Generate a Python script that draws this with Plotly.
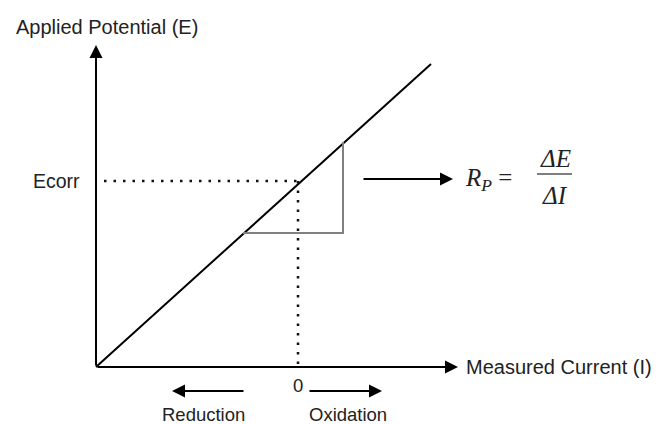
import plotly.graph_objects as go

# ---- data (diagram units; origin = axes crossing) ----
line_I = [0, 335]
line_E = [0, 303]
E_corr = 186
I_zero = 202
ecorr_start = 8
tri_I = [147, 247, 247]
tri_E = [134, 134, 225]
axis_I_max = 362
axis_E_max = 322

fig = go.Figure()

# polarization line
fig.add_trace(go.Scatter(x=line_I, y=line_E, mode="lines",
                         line=dict(color="black", width=2), hoverinfo="skip"))
# slope triangle
fig.add_trace(go.Scatter(x=tri_I, y=tri_E, mode="lines",
                         line=dict(color="#808080", width=2), hoverinfo="skip"))
# Ecorr dotted lines
dots = dict(color="#111", width=2.5, dash="2.5px,7px")
fig.add_trace(go.Scatter(x=[ecorr_start, I_zero], y=[E_corr, E_corr], mode="lines",
                         line=dots, hoverinfo="skip"))
fig.add_trace(go.Scatter(x=[I_zero, I_zero], y=[E_corr, 0], mode="lines",
                         line=dots, hoverinfo="skip"))


def arrow(x0, y0, x1, y1, w=2):
    fig.add_annotation(x=x1, y=y1, ax=x0, ay=y0, xref="x", yref="y",
                       axref="x", ayref="y", text="", showarrow=True,
                       arrowhead=2, arrowsize=1.3, arrowwidth=w, arrowcolor="black")


# axes
arrow(0, 0, axis_I_max, 0)
arrow(0, 0, 0, axis_E_max)
# direction arrows
arrow(149, -24, 76, -24)
arrow(212, -24, 286, -24)
# Rp arrow
arrow(266, 188, 357, 188)

fam = "Liberation Sans, Arial, sans-serif"
big = dict(family=fam, size=20, color="#222")
mid = dict(family=fam, size=19.5, color="#222")
small = dict(family=fam, size=18.5, color="#222")
fig.add_annotation(x=11, y=340, text="Applied Potential (E)", showarrow=False, font=big)
fig.add_annotation(x=-14, y=E_corr, text="Ecorr", showarrow=False, font=mid, xanchor="right")
fig.add_annotation(x=368, y=0, text="Measured Current (I)", showarrow=False, font=big, xanchor="left")
fig.add_annotation(x=I_zero, y=-18, text="0", showarrow=False, font=small)
fig.add_annotation(x=107, y=-47, text="Reduction", showarrow=False, font=small, borderpad=0)
fig.add_annotation(x=252, y=-47, text="Oxidation", showarrow=False, font=small, borderpad=0)

serif = dict(family="Liberation Serif, DejaVu Serif, serif", size=25, color="#222")
fig.add_annotation(x=367, y=188, text="<i>R<sub>P</sub></i> =", showarrow=False,
                   font=serif, xanchor="left")
fig.add_annotation(x=459, y=209, text="<i>ΔE</i>", showarrow=False, font=serif)
fig.add_annotation(x=459, y=172, text="<i>ΔI</i>", showarrow=False, font=serif)
fig.add_shape(type="line", x0=441, x1=476, y0=193, y1=193, xref="x", yref="y",
              line=dict(color="#555", width=1.5))

# figure sits 8px in from the page's top-left corner (default body margin)
fig.update_layout(
    width=655, height=416, margin=dict(l=0, r=0, t=0, b=0),
    plot_bgcolor="white", paper_bgcolor="white", showlegend=False,
    xaxis=dict(range=[-88, 567], visible=False, fixedrange=True),
    yaxis=dict(range=[-57, 359], visible=False, fixedrange=True),
)
fig.write_html("out.html")
